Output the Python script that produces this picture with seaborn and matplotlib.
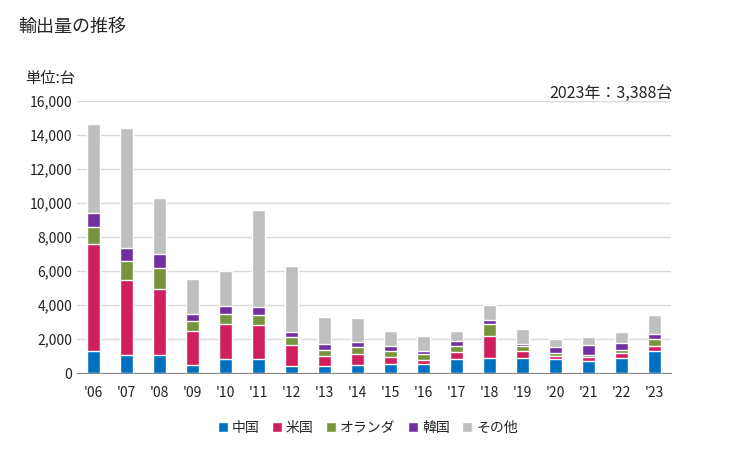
import matplotlib
matplotlib.use("Agg")
import matplotlib.pyplot as plt
import seaborn as sns
import numpy as np
import pandas as pd

# data (units: 台)
years = ["'06", "'07", "'08", "'09", "'10", "'11", "'12", "'13", "'14",
         "'15", "'16", "'17", "'18", "'19", "'20", "'21", "'22", "'23"]
china = [1280, 1040, 1080, 490, 810, 810, 440, 440, 480, 550, 550, 830, 910, 910, 830, 710, 910, 1300]
usa = [6300, 4420, 3840, 2010, 2050, 1990, 1190, 570, 650, 400, 220, 420, 1280, 390, 180, 240, 280, 300]
netherlands = [1000, 1120, 1240, 590, 590, 590, 470, 360, 420, 360, 360, 360, 710, 300, 180, 120, 180, 410]
korea = [830, 770, 830, 355, 470, 470, 340, 360, 300, 300, 180, 300, 240, 120, 350, 590, 410, 300]
other = [5260, 7090, 3310, 2070, 2070, 5730, 3860, 1540, 1360, 890, 890, 590, 890, 890, 470, 470, 650, 1078]

series_names = ["中国", "米国", "オランダ", "韓国", "その他"]
series_values = [china, usa, netherlands, korea, other]
colors = ["#0070C0", "#CF1F5F", "#77933C", "#7030A0", "#BFBFBF"]

sns.set_style("white")
plt.rcParams['font.family'] = ['Noto Sans CJK JP', 'DejaVu Sans']

fig = plt.figure(figsize=(7.29, 4.5), dpi=100)
ax = fig.add_axes([0.1056, 0.171, 0.8144, 0.6046])

# stacked bars: draw cumulative totals from the top down
cum = np.cumsum(np.array(series_values), axis=0)
for i in range(len(series_names) - 1, -1, -1):
    df = pd.DataFrame({"year": years, "value": cum[i]})
    sns.barplot(data=df, x="year", y="value", color=colors[i], width=0.4,
                saturation=1, ax=ax, label=series_names[i], zorder=3)

ax.set_xlim(-0.5, len(years) - 0.5)
ax.set_ylim(0, 16000)
ax.set_yticks(range(0, 16001, 2000))
ax.set_yticklabels([f"{v:,}" for v in range(0, 16001, 2000)])
ax.grid(axis="y", color="#D9D9D9", linewidth=1, zorder=0)
ax.set_xlabel("")
ax.set_ylabel("")
for s in ["top", "right", "left"]:
    ax.spines[s].set_visible(False)
ax.spines["bottom"].set_color("#888888")
ax.tick_params(axis="both", length=0, labelsize=10, colors="#222222")
ax.tick_params(axis="x", pad=9)

# legend in original order
handles, labels = ax.get_legend_handles_labels()
order = [labels.index(n) for n in series_names]
ax.legend([handles[k] for k in order], series_names, loc="upper center",
          bbox_to_anchor=(0.49, -0.13), ncol=5, frameon=False, fontsize=10,
          handlelength=0.7, handleheight=0.7, handletextpad=0.3, columnspacing=0.9)

fig.text(0.025, 0.94, "輸出量の推移", fontsize=13, va="center", ha="left")
fig.text(0.035, 0.826, "単位:台", fontsize=11, va="center", ha="left")
fig.text(0.923, 0.793, "2023年：3,388台", fontsize=11.5, va="center", ha="right")

fig.savefig("out.png", dpi=100)
